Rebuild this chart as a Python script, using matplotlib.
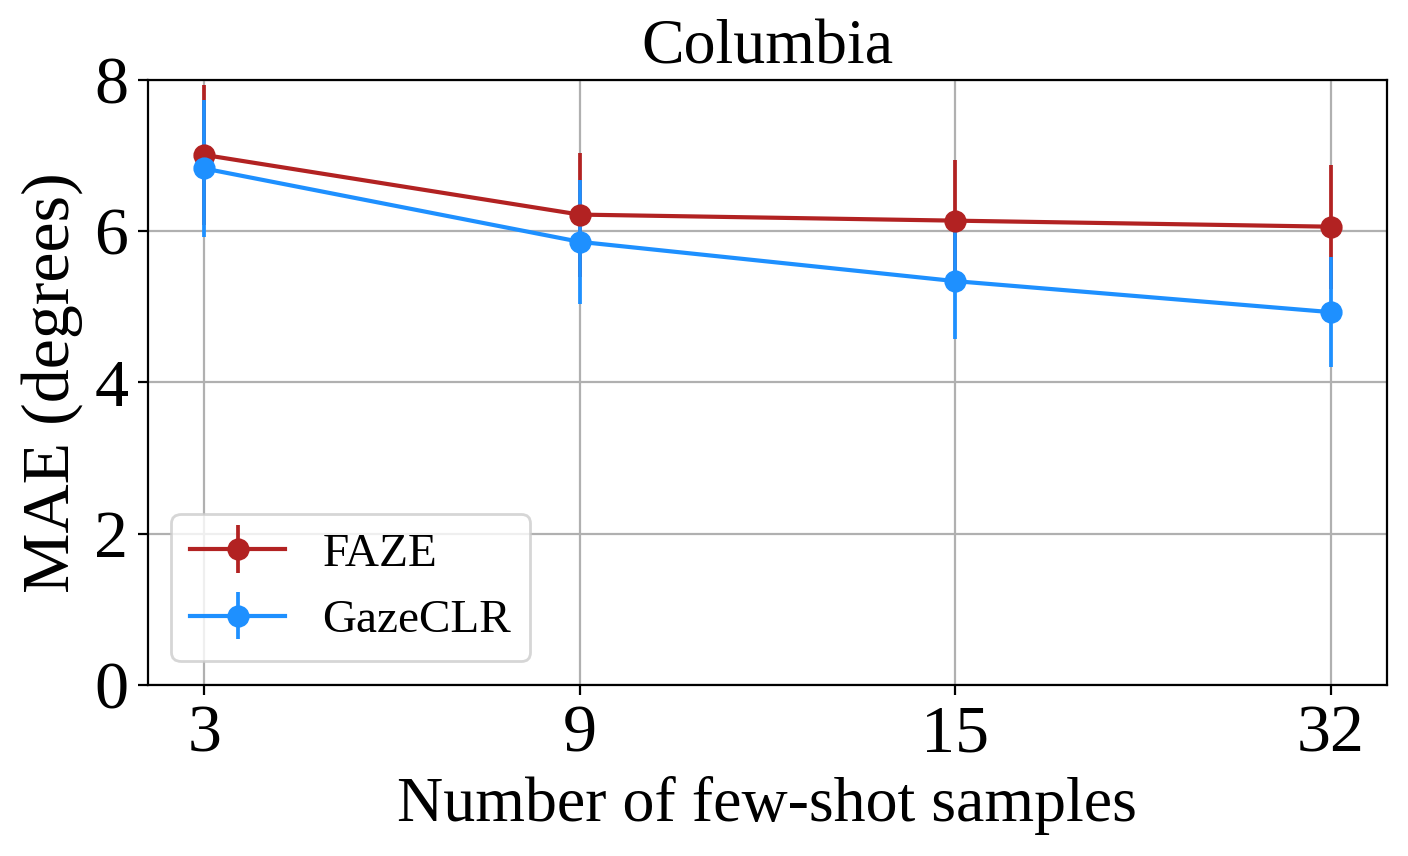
import matplotlib
matplotlib.use("Agg")
import matplotlib.pyplot as plt
import numpy as np

plt.rcParams['font.family'] = ['Liberation Serif', 'DejaVu Serif']

shots = ["3", "9", "15", "32"]
faze_mean = [7.01, 6.22, 6.14, 6.06]
faze_err = [0.93, 0.82, 0.80, 0.82]
gazeclr_mean = [6.83, 5.86, 5.34, 4.93]
gazeclr_err = [0.90, 0.82, 0.76, 0.73]

fig = plt.figure(figsize=(7.04, 4.28), dpi=200)
ax = fig.add_axes([0.105, 0.2, 0.88, 0.7065])
x = np.arange(len(shots))
ax.errorbar(x, faze_mean, yerr=faze_err, color='firebrick', marker='o',
            markersize=7, lw=1.5, elinewidth=1.35, label='FAZE')
ax.errorbar(x, gazeclr_mean, yerr=gazeclr_err, color='dodgerblue', marker='o',
            markersize=7, lw=1.5, elinewidth=1.35, label='GazeCLR')
ax.set_xticks(x)
ax.set_xticklabels(shots)
ax.set_ylim(0, 8)
ax.set_yticks([0, 2, 4, 6, 8])
ax.tick_params(labelsize=24.5)
ax.grid(True)
ax.set_xlabel('Number of few-shot samples', fontsize=23)
ax.set_ylabel('MAE (degrees)', fontsize=24.5)
ax.set_title('Columbia', fontsize=23)
ax.legend(loc='lower left', fontsize=17)
fig.savefig('out.png', dpi=200)
